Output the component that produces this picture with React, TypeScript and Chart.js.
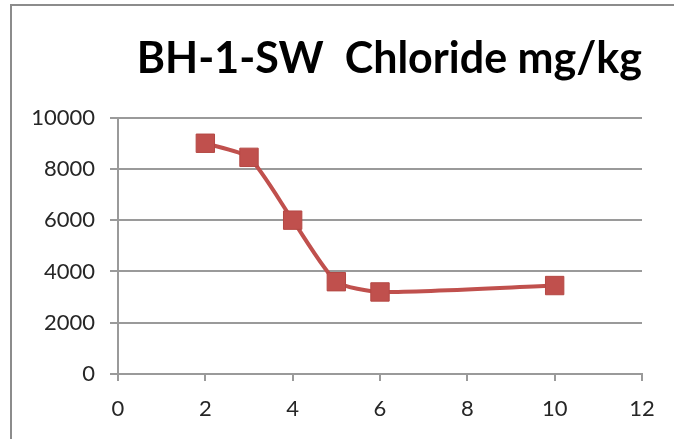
import React, { useEffect, useRef } from "react";
import { Chart, registerables } from "chart.js";

Chart.register(...registerables);

const titleText = "BH-1-SW  Chloride mg/kg";
const depths = [2, 3, 4, 5, 6, 10];
const chloride = [9000, 8450, 6000, 3600, 3200, 3450];
const xTicks = [0, 2, 4, 6, 8, 10, 12];
const yTicks = [0, 2000, 4000, 6000, 8000, 10000];

const frameLines = {
  id: "frameLines",
  beforeDraw(chart: any) {
    const ctx = chart.ctx;
    ctx.save();
    ctx.strokeStyle = "#8c8c8c";
    ctx.lineWidth = 2;
    ctx.beginPath();
    ctx.moveTo(11, chart.height);
    ctx.lineTo(11, 5);
    ctx.lineTo(chart.width, 5);
    ctx.stroke();
    ctx.restore();
  },
};

export default function App() {
  const ref = useRef<HTMLCanvasElement | null>(null);
  useEffect(() => {
    document.body.style.margin = "0";
    document.body.style.overflow = "hidden";
    const canvas = ref.current!;
    const gridColor = "#9a9a9a";
    const tickFont = { family: "Lato", size: 22 };
    const chart = new Chart(canvas, {
      type: "line",
      data: {
        datasets: [
          {
            data: depths.map((d, i) => ({ x: d, y: chloride[i] })),
            borderColor: "#c0504d",
            backgroundColor: "#c0504d",
            borderWidth: 4,
            tension: 0.2,
            pointStyle: "rect",
            pointRadius: 13,
            pointBorderWidth: 1,
            pointBorderColor: "#b44844",
            pointBackgroundColor: "#c0504d",
          },
        ],
      },
      options: {
        animation: false,
        responsive: false,
        layout: { padding: { left: 0, right: 32, top: 0, bottom: 0 } },
        plugins: {
          legend: { display: false },
          tooltip: { enabled: false },
          title: {
            display: true,
            text: titleText,
            align: "end",
            color: "#000",
            font: { family: "Lato", size: 43, weight: "bold" },
            padding: { top: 33, bottom: 33 },
          },
        },
        scales: {
          x: {
            type: "linear",
            min: 0,
            max: 12,
            afterBuildTicks: (s: any) => {
              s.ticks = xTicks.map((v) => ({ value: v }));
            },
            afterFit: (s: any) => {
              s.height = 65;
            },
            ticks: { color: "#262626", font: tickFont, padding: 15, maxRotation: 0, callback: (v: any) => String(v) },
            grid: { drawOnChartArea: false, drawTicks: true, tickLength: 7, color: gridColor, lineWidth: 2 },
            border: { color: gridColor, width: 2 },
          },
          y: {
            min: 0,
            max: 10000,
            afterBuildTicks: (s: any) => {
              s.ticks = yTicks.map((v) => ({ value: v }));
            },
            afterFit: (s: any) => {
              s.width = 118;
            },
            ticks: { color: "#262626", font: tickFont, padding: 15, callback: (v: any) => String(v) },
            grid: { drawTicks: true, tickLength: 8, color: gridColor, lineWidth: 2 },
            border: { color: gridColor, width: 2 },
          },
        },
      },
      plugins: [frameLines],
    });
    return () => chart.destroy();
  }, []);
  return <canvas ref={ref} width={674} height={439} style={{ display: "block" }} />;
}
